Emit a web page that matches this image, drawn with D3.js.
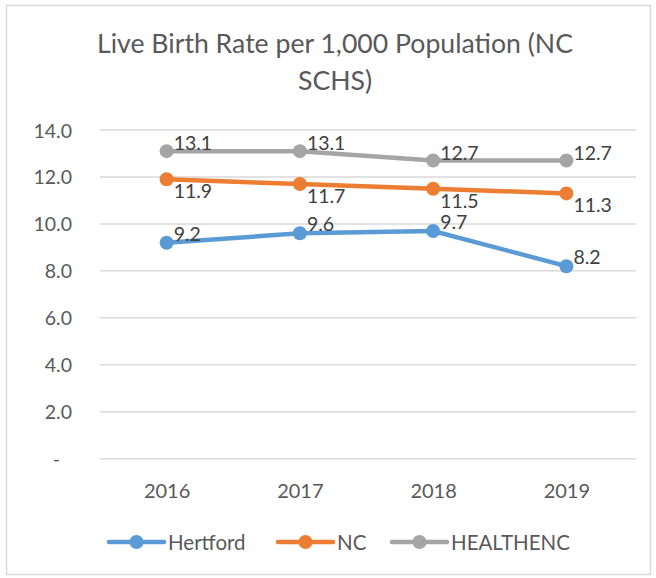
<!DOCTYPE html>
<html><head><meta charset="utf-8">
<script src="https://cdn.jsdelivr.net/npm/d3@7"></script>
<style>body{margin:0;background:#fff}svg{display:block}text{font-family:Lato,"Open Sans",sans-serif}</style>
</head><body>
<script>
const years = ["2016","2017","2018","2019"];
const hertford = [9.2, 9.6, 9.7, 8.2];
const nc = [11.9, 11.7, 11.5, 11.3];
const healthenc = [13.1, 13.1, 12.7, 12.7];
const yTicks = [0, 2, 4, 6, 8, 10, 12, 14];
const seriesNames = ["Hertford", "NC", "HEALTHENC"];
const seriesColors = ["#5B9BD5", "#ED7D31", "#A5A5A5"];
const titleLines = ["Live Birth Rate per 1,000 Population (NC", "SCHS)"];

const W = 656, H = 578;
const FONT = 'Lato,"Open Sans",sans-serif';
const svg = d3.select("body").append("svg").attr("width", W).attr("height", H);
svg.append("rect").attr("x", 6.5).attr("y", 5.5).attr("width", 644).attr("height", 569)
  .attr("fill", "#fff").attr("stroke", "#D9D9D9").attr("stroke-width", 1.5);

const title = svg.append("text").attr("text-anchor", "middle")
  .attr("fill", "#595959").attr("font-size", 25);
title.selectAll("tspan").data(titleLines).join("tspan")
  .attr("x", 335).attr("y", (d, i) => 53 + i * 37).text(d => d);
const t0 = title.select("tspan").node();
const w0 = t0.getComputedTextLength();
if (w0 > 0) title.attr("font-size", 25 * 476 / w0);

const x = d3.scalePoint().domain(years).range([100, 633]).padding(0.5);
const y = d3.scaleLinear().domain([0, 14]).range([458.7, 130]);

const grid = svg.append("g");
grid.selectAll("line").data(yTicks).join("line")
  .attr("x1", 100).attr("x2", 636)
  .attr("y1", d => y(d)).attr("y2", d => y(d))
  .attr("stroke", "#D9D9D9").attr("stroke-width", 1.5);

const yAxis = svg.append("g").attr("transform", "translate(72,0)")
  .call(d3.axisLeft(y).tickValues(yTicks).tickSize(0).tickPadding(0)
    .tickFormat(d => d === 0 ? "-" : d3.format(".1f")(d)));
yAxis.select(".domain").remove();
yAxis.selectAll("text").attr("font-size", 19.5).attr("fill", "#595959")
  .attr("font-family", FONT).attr("dy", "0.36em").attr("dx", d => d === 0 ? -12 : 0);

const xAxis = svg.append("g").attr("transform", "translate(0,458.7)")
  .call(d3.axisBottom(x).tickSize(0).tickPadding(0));
xAxis.select(".domain").remove();
xAxis.selectAll("text").attr("font-size", 20).attr("fill", "#595959")
  .attr("font-family", FONT).attr("dy", 0).attr("y", 39.5);

const data = [hertford, nc, healthenc];
const labelDy = [-2, 19, -1];
const line = d3.line().x((d, i) => x(years[i])).y(d => y(d));

data.forEach((vals, s) => {
  const g = svg.append("g");
  g.append("path").attr("d", line(vals)).attr("fill", "none")
    .attr("stroke", seriesColors[s]).attr("stroke-width", 4.5).attr("stroke-linecap", "round");
  g.selectAll("circle").data(vals).join("circle")
    .attr("cx", (d, i) => x(years[i])).attr("cy", d => y(d)).attr("r", 7)
    .attr("fill", seriesColors[s]);
});
data.forEach((vals, s) => {
  svg.append("g").selectAll("text").data(vals).join("text")
    .attr("x", (d, i) => x(years[i]) + 7).attr("y", d => y(d) + labelDy[s])
    .attr("font-size", 19.5).attr("fill", "#404040").text(d => d3.format(".1f")(d));
});

const legendX = [109, 278, 392];
const leg = svg.append("g");
seriesNames.forEach((n, s) => {
  const lx = legendX[s];
  leg.append("line").attr("x1", lx).attr("x2", lx + 55).attr("y1", 542).attr("y2", 542)
    .attr("stroke", seriesColors[s]).attr("stroke-width", 4.5).attr("stroke-linecap", "round");
  leg.append("circle").attr("cx", lx + 27.5).attr("cy", 542).attr("r", 7).attr("fill", seriesColors[s]);
  leg.append("text").attr("x", lx + 59).attr("y", 549.5)
    .attr("font-size", 20.5).attr("fill", "#595959").text(n);
});
</script>
</body></html>
